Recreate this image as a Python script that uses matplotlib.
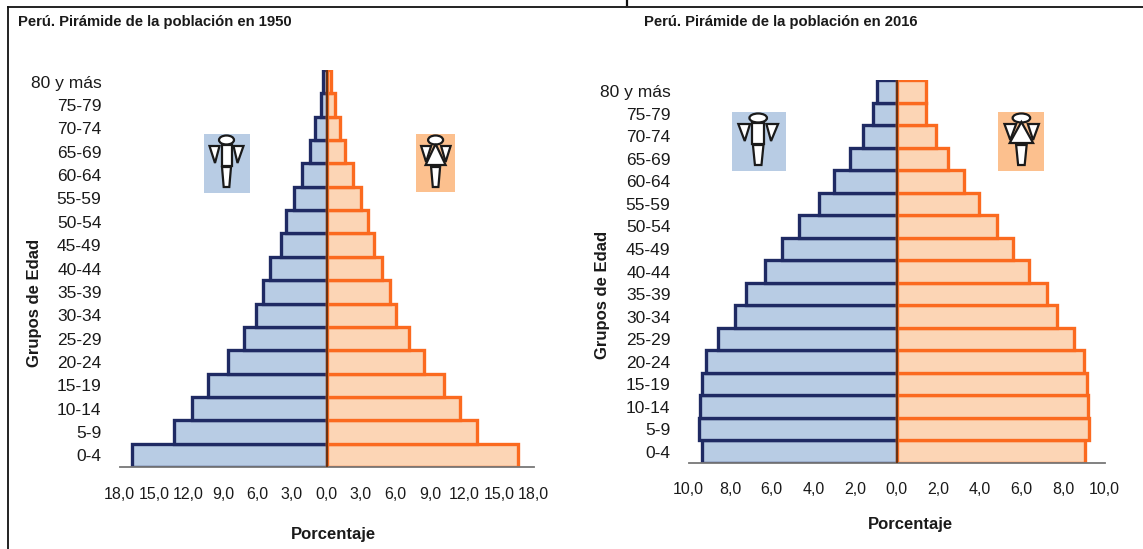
import matplotlib
matplotlib.use("Agg")
import matplotlib.pyplot as plt
from matplotlib.patches import Rectangle, Ellipse, Polygon

W, H = 1143, 549

grupos = ['0-4', '5-9', '10-14', '15-19', '20-24', '25-29', '30-34', '35-39', '40-44',
          '45-49', '50-54', '55-59', '60-64', '65-69', '70-74', '75-79', '80 y más']

hombres_1950 = [16.9, 13.3, 11.7, 10.3, 8.6, 7.2, 6.1, 5.5, 4.9, 4.0, 3.5, 2.8, 2.1, 1.4, 1.0, 0.5, 0.3]
mujeres_1950 = [16.65, 13.1, 11.6, 10.2, 8.5, 7.2, 6.0, 5.5, 4.8, 4.1, 3.6, 3.0, 2.3, 1.6, 1.2, 0.7, 0.4]
hombres_2016 = [9.33, 9.5, 9.47, 9.35, 9.14, 8.56, 7.75, 7.22, 6.33, 5.5, 4.68, 3.74, 3.0, 2.23, 1.6, 1.12, 0.95]
mujeres_2016 = [9.05, 9.26, 9.22, 9.15, 9.0, 8.52, 7.71, 7.24, 6.36, 5.6, 4.83, 3.95, 3.23, 2.48, 1.88, 1.4, 1.4]

ticks_1950 = [3, 6, 9, 12, 15, 18]
ticks_2016 = [2, 4, 6, 8, 10]

plt.rcParams['font.family'] = ['Liberation Sans', 'DejaVu Sans']

AZUL, AZUL_BORDE = '#b8cce4', '#1f2a63'
NARANJA, NARANJA_BORDE = '#fcd5b5', '#fb6a1f'
TEXTO = '#1a1a1a'

fig = plt.figure(figsize=(W / 100, H / 100), dpi=100)


def piramide(x0, x1, y0, y1, hombres, mujeres, ticks, titulo, titulo_x, ylabel_x, ylabel_y, xlabel_x, xlabel_y, pad_x):
    ax = fig.add_axes([x0 / W, 1 - y1 / H, (x1 - x0) / W, (y1 - y0) / H])
    pos = range(len(grupos))
    ax.barh(pos, [-v for v in hombres], height=1, color=AZUL, edgecolor=AZUL_BORDE, linewidth=2.4)
    ax.barh(pos, mujeres, height=1, color=NARANJA, edgecolor=NARANJA_BORDE, linewidth=2.4)
    ax.axvline(0, color='#6b3312', lw=1.5, zorder=5)
    ax.set_xlim(-ticks[-1], ticks[-1])
    ax.set_ylim(-0.5, len(grupos) - 0.5)
    for s in ['top', 'left', 'right']:
        ax.spines[s].set_visible(False)
    ax.spines['bottom'].set_color('#777777')
    ax.spines['bottom'].set_linewidth(1.3)
    ax.patch.set_alpha(0)
    xt = [-t for t in ticks[::-1]] + [0] + ticks
    ax.set_xticks(xt, [f"{abs(t):.1f}".replace('.', ',') for t in xt])
    ax.set_yticks(list(pos), grupos)
    ax.tick_params(axis='x', length=0, pad=pad_x, labelsize=11.5, labelcolor=TEXTO)
    ax.tick_params(axis='y', length=0, pad=13, labelsize=12.5, labelcolor=TEXTO)
    fig.text(titulo_x / W, 1 - 22 / H, titulo, fontsize=10.7, fontweight='bold', color=TEXTO, va='center')
    fig.text(ylabel_x / W, 1 - ylabel_y / H, 'Grupos de Edad', rotation=90, fontsize=12,
             fontweight='bold', color=TEXTO, ha='center', va='center')
    fig.text(xlabel_x / W, 1 - xlabel_y / H, 'Porcentaje', fontsize=12, fontweight='bold', color=TEXTO,
             ha='center', va='center')
    return ax


piramide(119.5, 533.5, 70, 467, hombres_1950, mujeres_1950, ticks_1950,
         'Perú. Pirámide de la población en 1950', 18, 35, 303, 333, 534, 14.5)
piramide(688.5, 1104.5, 80, 463, hombres_2016, mujeres_2016, ticks_2016,
         'Perú. Pirámide de la población en 2016', 644, 603, 295, 910, 524, 14)

# capa en pixeles para el marco y los iconos
capa = fig.add_axes([0, 0, 1, 1], zorder=10)
capa.set_xlim(0, W)
capa.set_ylim(H, 0)
capa.axis('off')

capa.plot([8, 8], [7, H], color='#111111', lw=1.3)
capa.plot([8, W], [7, 7], color='#111111', lw=1.3)
capa.plot([626.5, 626.5], [0, 5], color='#111111', lw=1.6)


def icono(cx, cy, k, mujer=False):
    estilo = dict(facecolor='white', edgecolor='#1a1a1a', linewidth=1.6)
    capa.add_patch(Ellipse((cx, cy), 15 * k, 9, **estilo))
    if mujer:
        capa.add_patch(Polygon([(cx - 14.5 * k, cy + 6), (cx - 4.5 * k, cy + 6), (cx - 9.5 * k, cy + 22)], **estilo))
        capa.add_patch(Polygon([(cx + 5.5 * k, cy + 6), (cx + 15 * k, cy + 6), (cx + 10 * k, cy + 22)], **estilo))
        capa.add_patch(Polygon([(cx, cy + 4), (cx + 10 * k, cy + 25), (cx - 10 * k, cy + 25)], **estilo))
    else:
        capa.add_patch(Polygon([(cx - 17 * k, cy + 6), (cx - 7 * k, cy + 6), (cx - 11.5 * k, cy + 23)], **estilo))
        capa.add_patch(Polygon([(cx + 7 * k, cy + 6), (cx + 17 * k, cy + 6), (cx + 11 * k, cy + 23)], **estilo))
        capa.add_patch(Rectangle((cx - 5 * k, cy + 4.5), 10 * k, 21, **estilo))
    capa.add_patch(Polygon([(cx - 4.5 * k, cy + 27), (cx + 4.5 * k, cy + 27), (cx + 2.8 * k, cy + 47),
                            (cx - 2.8 * k, cy + 47)], **estilo))


capa.add_patch(Rectangle((204, 134), 46, 59, facecolor='#b8cce4', edgecolor='none', zorder=0))
capa.add_patch(Rectangle((416, 134), 39, 58, facecolor='#fcc08e', edgecolor='none', zorder=0))
capa.add_patch(Rectangle((732, 112), 53.5, 59, facecolor='#b8cce4', edgecolor='none', zorder=0))
capa.add_patch(Rectangle((997.5, 112), 46.5, 59, facecolor='#fcc08e', edgecolor='none', zorder=0))
icono(226.5, 140, 1.0)
icono(435.6, 140, 1.0, mujer=True)
icono(758.2, 118, 1.17)
icono(1021.4, 118, 1.17, mujer=True)

fig.savefig('out.png', dpi=100)
